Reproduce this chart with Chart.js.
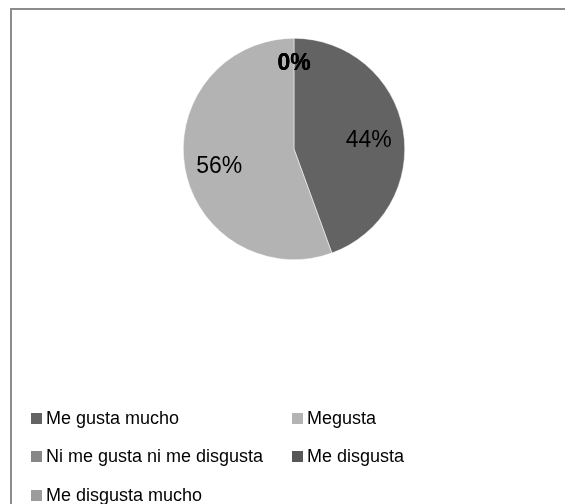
<!DOCTYPE html>
<html lang="es">
<head>
    <meta charset="UTF-8">
    <title>Pie</title>
    <script src="https://cdn.jsdelivr.net/npm/chart.js"></script>
    <style>
        html, body { margin: 0; padding: 0; background: #fff; }
        body { width: 565px; height: 504px; position: relative; overflow: hidden;
               font-family: "Liberation Sans", sans-serif; }
        #frame { position: absolute; left: 10px; top: 8px; width: 600px; height: 600px;
                 border-left: 2px solid #8c8c8c; border-top: 2px solid #8c8c8c; }
        #wrap { position: absolute; left: 0; top: 0; width: 565px; height: 504px; }
        #legend { position: absolute; left: 31px; top: 418px; width: 520px; }
        .item { position: absolute; display: flex; align-items: center; height: 20px; margin-top: -10px;
                font-size: 18px; color: #000; white-space: nowrap; }
        .box { width: 11px; height: 11px; margin-right: 4px; }
    </style>
</head>
<body>
    <div id="frame"></div>
    <div id="wrap"><canvas id="pieChart" width="565" height="504"></canvas></div>
    <div id="legend"></div>

    <script>
        const labels = ['Me gusta mucho', 'Megusta', 'Ni me gusta ni me disgusta', 'Me disgusta', 'Me disgusta mucho'];
        const values = [4, 5, 0, 0, 0];
        const colors = ['#636363', '#b3b3b3', '#878787', '#575757', '#9c9c9c'];

        // percentage labels drawn inside each slice
        const sliceLabels = {
            id: 'sliceLabels',
            afterDatasetsDraw(chart) {
                const ctx = chart.ctx;
                const meta = chart.getDatasetMeta(0);
                const total = values.reduce((a, b) => a + b, 0);
                ctx.save();
                ctx.textAlign = 'center';
                ctx.textBaseline = 'middle';
                ctx.fillStyle = '#000';
                meta.data.forEach((arc, i) => {
                    const p = arc.getProps(['x', 'y', 'startAngle', 'endAngle', 'outerRadius']);
                    const mid = (p.startAngle + p.endAngle) / 2;
                    const zero = values[i] === 0;
                    const d = p.outerRadius * (zero ? 0.81 : 0.685);
                    ctx.font = (zero ? 'bold ' : '') + '23px "Liberation Sans", sans-serif';
                    const pct = Math.round(values[i] / total * 100) + '%';
                    ctx.fillText(pct, p.x + Math.cos(mid) * d, p.y + Math.sin(mid) * d + 4.5);
                });
                ctx.restore();
            }
        };

        new Chart(document.getElementById('pieChart').getContext('2d'), {
            type: 'pie',
            data: {
                labels: labels,
                datasets: [{
                    data: values,
                    backgroundColor: colors,
                    borderColor: '#ffffff',
                    borderWidth: 0.5
                }]
            },
            options: {
                responsive: false,
                animation: false,
                layout: { padding: { left: 183, top: 38, right: 160, bottom: 244 } },
                plugins: { legend: { display: false }, tooltip: { enabled: false } }
            },
            plugins: [sliceLabels]
        });

        // legend laid out in two columns like the original
        const legend = document.getElementById('legend');
        labels.forEach((label, i) => {
            const item = document.createElement('div');
            item.className = 'item';
            item.style.left = (i % 2 === 0 ? 0 : 261) + 'px';
            item.style.top = (Math.floor(i / 2) * 38.5) + 'px';
            item.innerHTML = `<span class="box" style="background:${colors[i]}"></span>${label}`;
            legend.appendChild(item);
        });
    </script>
</body>
</html>
